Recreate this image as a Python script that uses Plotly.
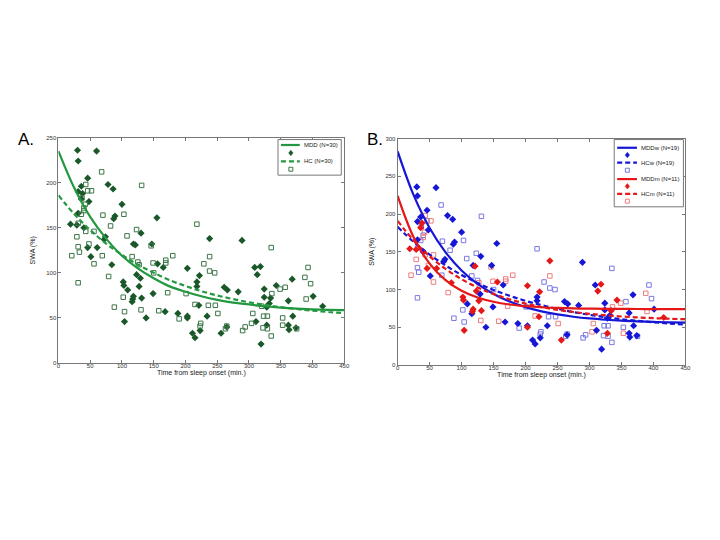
import plotly.graph_objects as go

W, H = 720, 540

# ---------------- data ----------------
# MDD, women (blue filled diamonds in B)
mddw_x = [30, 31, 60, 46, 36, 31, 48, 78, 86, 100, 89, 87, 155, 51, 74, 72, 118, 130, 109, 116,
          129, 138, 149, 147, 165, 168, 188, 211, 215, 223, 234, 218, 218, 261, 266, 283, 265, 289,
          309, 324, 324, 311, 319, 332, 328, 362, 368, 369, 362, 363, 374, 401, 40, 31, 203]
mddw_y = [236, 224, 235, 205, 196, 190, 179, 198, 193, 176, 163, 160, 161, 118, 140, 137, 132, 144, 81, 68,
          94, 50, 77, 132, 106, 57, 55, 33, 28, 36, 52, 90, 85, 84, 81, 79, 40, 136,
          106, 82, 73, 46, 21, 66, 62, 69, 93, 52, 42, 37, 39, 74, 150, 166, 52]
# MDD, men (red filled diamonds in B)
mddm_x = [19, 29, 38, 36, 46, 61, 84, 121, 102, 103, 104, 118, 117, 131, 123, 127, 156, 203, 222, 221,
          203, 238, 256, 318, 313, 334, 328, 343, 416]
mddm_y = [154, 153, 188, 182, 128, 128, 109, 131, 90, 86, 46, 74, 71, 72, 98, 85, 110, 105, 97, 64,
          50, 138, 33, 107, 98, 72, 42, 86, 63]
# Healthy controls, women (blue open squares in B)
hcw_x = [68, 131, 70, 103, 36, 31, 82, 31, 33, 31, 88, 102, 104, 123, 218, 229, 238, 246, 190, 223,
         224, 236, 247, 265, 263, 290, 294, 335, 393, 397, 357, 323, 329, 320, 353, 335, 375, 322,
         329, 69, 125, 150, 201, 108, 116, 37, 46, 40]
hcw_y = [212, 197, 164, 165, 165, 155, 152, 129, 123, 89, 62, 73, 57, 148, 154, 110, 102, 100, 49, 41,
         44, 64, 64, 41, 38, 36, 40, 128, 106, 88, 84, 52, 52, 63, 50, 30, 38, 39,
         38, 119, 112, 100, 77, 141, 118, 183, 191, 172]
# Healthy controls, men (red open squares in B)
hcm_x = [43, 52, 42, 40, 29, 21, 56, 43, 79, 130, 146, 149, 238, 180, 169, 169, 172, 158, 215, 251,
         388, 349, 336, 390, 306, 304, 353, 56, 127, 48]
hcm_y = [198, 191, 176, 169, 140, 119, 110, 146, 96, 59, 130, 111, 118, 119, 114, 111, 78, 58, 65, 55,
         95, 82, 77, 71, 55, 44, 42, 146, 109, 132]

# fitted decay curves, read at these times (min.)
fit_t = [0, 25, 50, 75, 100, 125, 150, 175, 200, 225, 250, 275, 300, 325, 350, 375, 400, 425, 450]
fit_mdd = [235, 194, 162, 138, 119, 105, 94, 85, 79, 74, 70, 67, 65, 63, 61.5, 60.4, 59.6, 59, 58.6]
fit_hc = [186, 165, 147.5, 132.5, 120, 109, 100, 92, 85.4, 79.7, 74.9, 70.9, 67.4, 64.5, 62, 59.9, 58.1, 56.6, 55.3]
fit_mddw = [283, 225, 181.6, 149.3, 125.3, 107.4, 94, 84.1, 76.7, 71.1, 67, 64, 61.7, 60, 58.7, 57.8, 57.1, 56.5, 56.1]
fit_hcw = [183, 163.2, 146.3, 131.8, 119.3, 108.6, 99.5, 91.7, 85, 79.3, 74.4, 70.1, 66.5, 63.5, 60.8, 58.5, 56.6, 54.9, 53.5]
fit_mddm = [224, 169.2, 134.4, 112.4, 98.4, 89.5, 83.8, 80.2, 78, 76.5, 75.6, 75, 74.7, 74.4, 74.3, 74.2, 74.1, 74, 74]
fit_hcm = [191, 165, 144, 127.3, 113.7, 102.8, 94.1, 87, 81.4, 76.8, 73.1, 70.2, 67.8, 65.9, 64.3, 63.1, 62.1, 61.3, 60.7]

x_ticks = [0, 50, 100, 150, 200, 250, 300, 350, 400, 450]
ya_ticks = [0, 50, 100, 150, 200, 250]
yb_ticks = [0, 50, 100, 150, 200, 250, 300]

# ---------------- styles ----------------
GREEN_LINE = "rgb(36,152,64)"
GREEN_DIA = "rgb(26,88,42)"
GREEN_SQ = "rgb(60,118,72)"
BLUE = "rgb(22,22,215)"
BLUE_SQ = "rgb(120,120,228)"
RED = "rgb(228,24,24)"
RED_SQ = "rgb(240,125,125)"
FONT = "Liberation Sans, Arial, sans-serif"
DASH = "5px,3px"
LW = 2.2
DIA = 5.5
SQ = 4.5


def px(x):
    return x / W


def py(y):
    return 1 - y / H


fig = go.Figure()

# Panel A
fig.add_trace(go.Scatter(x=mddw_x + mddm_x, y=mddw_y + mddm_y, mode="markers",
                         marker=dict(symbol="diamond", size=DIA, color=GREEN_DIA),
                         xaxis="x", yaxis="y", showlegend=False))
fig.add_trace(go.Scatter(x=hcw_x + hcm_x, y=hcw_y + hcm_y, mode="markers",
                         marker=dict(symbol="square-open", size=SQ, color=GREEN_SQ, line=dict(width=1)),
                         xaxis="x", yaxis="y", showlegend=False))
fig.add_trace(go.Scatter(x=fit_t, y=fit_mdd, mode="lines", line=dict(color=GREEN_LINE, width=LW, shape="spline"),
                         xaxis="x", yaxis="y", showlegend=False))
fig.add_trace(go.Scatter(x=fit_t, y=fit_hc, mode="lines",
                         line=dict(color=GREEN_LINE, width=LW, dash=DASH, shape="spline"),
                         xaxis="x", yaxis="y", showlegend=False))

# Panel B
fig.add_trace(go.Scatter(x=hcw_x, y=hcw_y, mode="markers",
                         marker=dict(symbol="square-open", size=SQ, color=BLUE_SQ, line=dict(width=1)),
                         xaxis="x2", yaxis="y2", showlegend=False))
fig.add_trace(go.Scatter(x=hcm_x, y=hcm_y, mode="markers",
                         marker=dict(symbol="square-open", size=SQ, color=RED_SQ, line=dict(width=1)),
                         xaxis="x2", yaxis="y2", showlegend=False))
fig.add_trace(go.Scatter(x=mddw_x, y=mddw_y, mode="markers",
                         marker=dict(symbol="diamond", size=DIA, color=BLUE),
                         xaxis="x2", yaxis="y2", showlegend=False))
fig.add_trace(go.Scatter(x=mddm_x, y=mddm_y, mode="markers",
                         marker=dict(symbol="diamond", size=DIA, color=RED),
                         xaxis="x2", yaxis="y2", showlegend=False))
for ys, col, dash in [(fit_mddw, BLUE, "solid"), (fit_hcw, BLUE, DASH),
                      (fit_mddm, RED, "solid"), (fit_hcm, RED, DASH)]:
    fig.add_trace(go.Scatter(x=fit_t, y=ys, mode="lines",
                             line=dict(color=col, width=LW, dash=dash, shape="spline"),
                             xaxis="x2", yaxis="y2", showlegend=False))

axis_common = dict(showgrid=False, zeroline=False, showline=True, linecolor="#777", linewidth=1,
                   mirror="allticks", ticks="inside", ticklen=3, tickcolor="#777",
                   tickfont=dict(size=6, color="#333", family=FONT))

fig.update_layout(
    width=W, height=H, paper_bgcolor="white", plot_bgcolor="white",
    margin=dict(l=0, r=0, t=0, b=0), showlegend=False,
    font=dict(family=FONT),
    xaxis=dict(domain=[px(49), px(338)], range=[0, 450], tickvals=x_ticks, anchor="y",
               ticklabelstandoff=-3,
               title=dict(text="Time from sleep onset (min.)", font=dict(size=7, color="#222"), standoff=0),
               **axis_common),
    yaxis=dict(domain=[py(356), py(128)], range=[0, 250], tickvals=ya_ticks, anchor="x",
               title=dict(text="SWA (%)", font=dict(size=7, color="#222"), standoff=9),
               **axis_common),
    xaxis2=dict(domain=[px(392), px(683)], range=[0, 450], tickvals=x_ticks, anchor="y2",
                ticklabelstandoff=-3,
                title=dict(text="Time from sleep onset (min.)", font=dict(size=7, color="#222"), standoff=0),
                **axis_common),
    yaxis2=dict(domain=[py(358), py(129)], range=[0, 300], tickvals=yb_ticks, anchor="x2",
                title=dict(text="SWA (%)", font=dict(size=7, color="#222"), standoff=9),
                **axis_common),
)

# ---------------- panel letters ----------------
annotations = [
    dict(text="A.", x=px(6), y=py(130), xref="paper", yref="paper", xanchor="left", yanchor="middle",
         showarrow=False, font=dict(size=17, color="black", family=FONT)),
    dict(text="B.", x=px(359), y=py(130), xref="paper", yref="paper", xanchor="left", yanchor="middle",
         showarrow=False, font=dict(size=17, color="black", family=FONT)),
]
shapes = []


def legend_box(x0, y0, x1, y1):
    shapes.append(dict(type="rect", xref="paper", yref="paper", x0=px(x0), x1=px(x1), y0=py(y1), y1=py(y0),
                       line=dict(color="#777", width=1), fillcolor="white", layer="above"))


def legend_line(x0, x1, y, color, dash, label, tx):
    shapes.append(dict(type="line", xref="paper", yref="paper", x0=px(x0), x1=px(x1), y0=py(y), y1=py(y),
                       line=dict(color=color, width=LW, dash=dash), layer="above"))
    annotations.append(dict(text=label, x=px(tx), y=py(y), xref="paper", yref="paper", xanchor="left",
                            yanchor="middle", showarrow=False, font=dict(size=6, color="#222", family=FONT)))


def legend_diamond(cx, cy, color, r=2.8):
    path = "M {} {} L {} {} L {} {} L {} {} Z".format(px(cx), py(cy - r), px(cx + r * 0.8), py(cy),
                                                       px(cx), py(cy + r), px(cx - r * 0.8), py(cy))
    shapes.append(dict(type="path", xref="paper", yref="paper", path=path, fillcolor=color,
                       line=dict(color=color, width=0.5), layer="above"))


def legend_square(cx, cy, color, r=2.0):
    shapes.append(dict(type="rect", xref="paper", yref="paper", x0=px(cx - r), x1=px(cx + r),
                       y0=py(cy + r), y1=py(cy - r), line=dict(color=color, width=1), layer="above"))


# legend A
legend_box(271, 130, 335, 166)
legend_line(274, 293, 135.5, GREEN_LINE, "solid", "MDD (N=30)", 295)
legend_diamond(284, 143.5, GREEN_DIA)
legend_line(274, 293, 152, GREEN_LINE, DASH, "HC (N=30)", 295)
legend_square(284, 160, GREEN_SQ)

# legend B
legend_box(611, 130, 681, 198)
legend_line(614, 634, 138.3, BLUE, "solid", "MDDw (N=19)", 636)
legend_diamond(624.3, 145.7, BLUE)
legend_line(614, 634, 153.3, BLUE, DASH, "HCw (N=19)", 636)
legend_square(624.3, 161, BLUE_SQ)
legend_line(614, 634, 170, RED, "solid", "MDDm (N=11)", 636)
legend_diamond(624.3, 177.3, RED)
legend_line(614, 634, 185, RED, DASH, "HCm (N=11)", 636)
legend_square(624.3, 192.3, RED_SQ)

fig.update_layout(annotations=annotations, shapes=shapes)

fig.write_html("out.html")
